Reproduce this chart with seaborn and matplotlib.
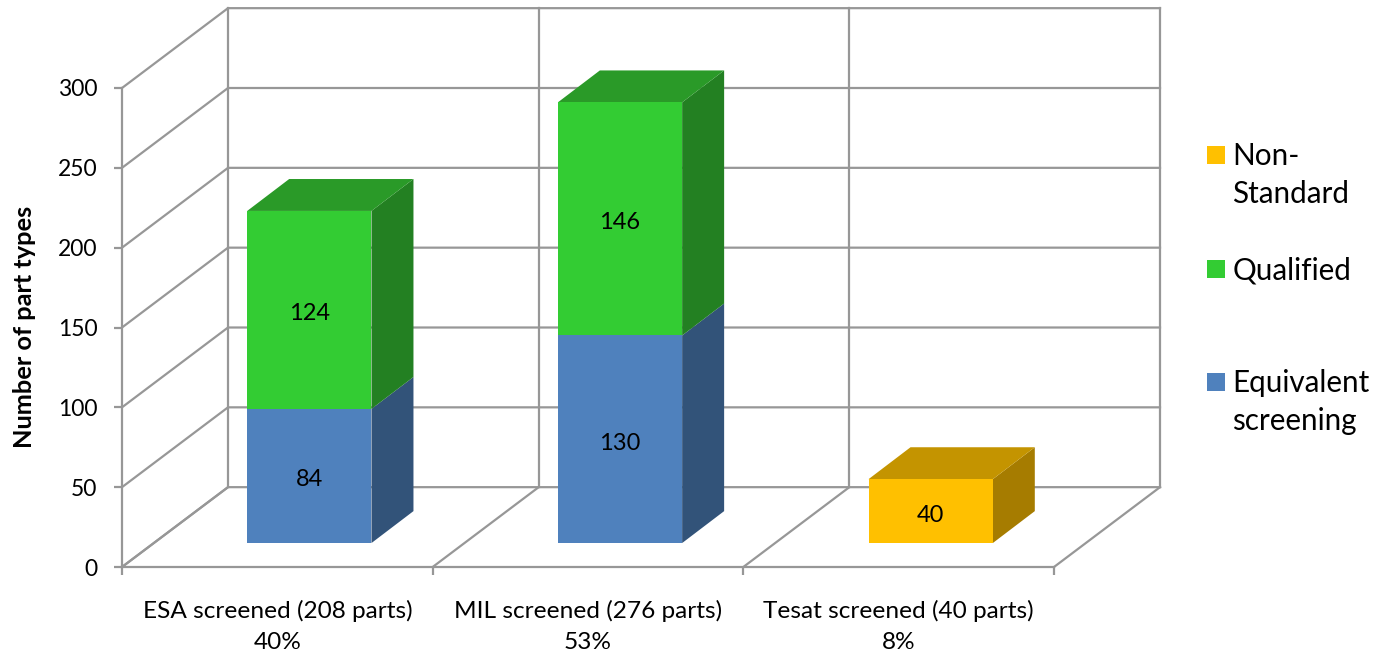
import matplotlib
matplotlib.use("Agg")
import matplotlib.pyplot as plt
from matplotlib.patches import Polygon, Rectangle
import numpy as np
import seaborn as sns

categories = ["ESA screened (208 parts)\n40%", "MIL screened (276 parts)\n53%", "Tesat screened (40 parts)\n8%"]
equivalent = [84, 130, 0]
qualified = [124, 146, 0]
non_standard = [0, 0, 40]
legend_labels = ["Non-\nStandard", "Qualified", "Equivalent\nscreening"]

BLUE = ("#4F81BD", "#4F81BD", "#325379")
GREEN = ("#33CC33", "#2A9A28", "#238022")
GOLD = ("#FFC000", "#C49400", "#A67C00")
GREY = "#979797"

W, H = 1375, 653
sns.set_theme(style="white")
plt.rcParams["font.family"] = ["Lato", "DejaVu Sans"]

fig = plt.figure(figsize=(W / 100, H / 100), dpi=100)
ax = fig.add_axes([122 / W, (H - 567) / H, 932 / W, 479 / H])

wall_dx, wall_dy = 106 / 310.67, 50       # depth of the box, data units
lift_dx, lift_dy = 32 / 310.67, 15        # where the bars stand on the floor
bar_dx, bar_dy = 42 / 310.67, 20          # depth of one bar

totals = np.array(equivalent) + np.array(qualified) + np.array(non_standard)
stack = np.zeros(3)
for values, cols in ((equivalent, BLUE), (qualified, GREEN), (non_standard, GOLD)):
    n = len(ax.patches)
    sns.barplot(x=categories, y=values, bottom=stack + lift_dy, width=0.4, color=cols[0],
                saturation=1, linewidth=0, ax=ax, zorder=4)
    cont = ax.containers[-1]
    stack = stack + np.array(values)
    for p, v, s, tot in zip(ax.patches[n:], values, stack, totals):
        p.set_x(p.get_x() + lift_dx)
        if v == 0:
            continue
        x0, x1 = p.get_x(), p.get_x() + p.get_width()
        y0, y1 = p.get_y(), p.get_y() + p.get_height()
        ax.add_patch(Polygon([(x1, y0), (x1 + bar_dx, y0 + bar_dy), (x1 + bar_dx, y1 + bar_dy), (x1, y1)],
                             closed=True, fc=cols[2], ec="none", clip_on=False, zorder=3))
        if s == tot:
            ax.add_patch(Polygon([(x0, y1), (x0 + bar_dx, y1 + bar_dy), (x1 + bar_dx, y1 + bar_dy), (x1, y1)],
                                 closed=True, fc=cols[1], ec="none", clip_on=False, zorder=3.5))
    texts = ax.bar_label(cont, labels=[str(v) if v else "" for v in values], label_type="center",
                         fontsize=17, color="black", zorder=6)
    for t in texts:
        t.set_va("center_baseline")
        t.xyann = (0, -1.4)

ax.set_xlim(-0.5, 2.5)
ax.set_ylim(0, 300)
yticks = np.arange(0, 301, 50)

line = dict(color=GREY, lw=1.6, clip_on=False, zorder=1, solid_capstyle="projecting")
for t in yticks:
    ax.plot([-0.5, -0.5 + wall_dx, 2.5 + wall_dx], [t, t + wall_dy, t + wall_dy], **line)
for xb in (-0.5, 0.5, 1.5, 2.5):
    ax.plot([xb + wall_dx, xb + wall_dx], [wall_dy, 300 + wall_dy], **line)
    ax.plot([xb, xb + wall_dx], [0, wall_dy], **line)

for s in ("top", "right"):
    ax.spines[s].set_visible(False)
for s in ("left", "bottom"):
    ax.spines[s].set_color(GREY)
    ax.spines[s].set_linewidth(1.6)

ax.set_yticks(yticks)
ax.tick_params(axis="y", which="major", left=True, length=5.8, width=1.6, color=GREY,
               pad=12, labelsize=16.5, labelcolor="black")
ax.set_xticks([0, 1, 2])
ax.set_xticklabels(categories, linespacing=1.55)
ax.set_xticks([-0.5, 0.5, 1.5, 2.5], minor=True)
ax.tick_params(axis="x", which="major", bottom=False, length=0, pad=24, labelsize=17.6, labelcolor="black")
ax.tick_params(axis="x", which="minor", bottom=True, length=5.8, width=1.6, color=GREY)
ax.set_xlabel("")
ax.set_ylabel("Number of part types", fontsize=18.3, fontweight="bold", color="black")
ax.yaxis.set_label_coords(36 / W, (H - 327) / H, transform=fig.transFigure)

for label, col, ytop in zip(legend_labels, (GOLD[0], GREEN[0], BLUE[0]), (146, 260, 373)):
    fig.add_artist(Rectangle((1207 / W, (H - ytop - 18) / H), 18 / W, 18 / H,
                             transform=fig.transFigure, fc=col, ec="none"))
    fig.text(1232.5 / W, (H - ytop + 4) / H, label, fontsize=21.3, color="black", va="top", ha="left",
             linespacing=1.42)

fig.savefig("out.png", dpi=100)
